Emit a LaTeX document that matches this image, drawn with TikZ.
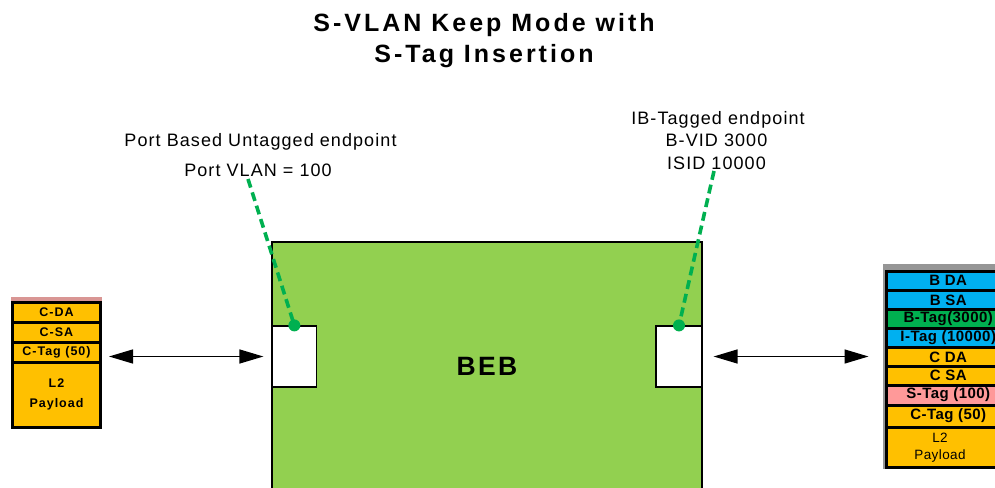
\documentclass[tikz,border=0pt]{standalone}
\usepackage{fontspec}
\setmainfont{Liberation Sans}
\usetikzlibrary{arrows.meta}
\definecolor{bebgreen}{HTML}{92D050}
\definecolor{dashgreen}{HTML}{00B050}
\definecolor{fblue}{HTML}{00B0F0}
\definecolor{fgreen}{HTML}{00B050}
\definecolor{forange}{HTML}{FFC000}
\definecolor{fpink}{HTML}{FF9999}
\definecolor{pinkbar}{HTML}{D99694}
\definecolor{shadowgray}{HTML}{969696}
\begin{document}
\begin{tikzpicture}[x=1pt,y=-1pt,
  titletext/.style={font=\fontsize{25}{31.5}\selectfont\bfseries\addfontfeatures{LetterSpace=12}, inner sep=0pt, anchor=base},
  labeltext/.style={font=\fontsize{18}{22.5}\selectfont\addfontfeatures{LetterSpace=6}, inner sep=0pt, anchor=base},
  bebbox/.style={draw=black, line width=1.2pt, fill=bebgreen, minimum width=430pt, minimum height=278pt, inner sep=0pt},
  bebtext/.style={font=\fontsize{26.5}{30}\selectfont\bfseries\addfontfeatures{LetterSpace=9}, inner sep=0pt},
  portbox/.style={draw=black, line width=1.2pt, fill=white, minimum height=61pt, inner sep=0pt},
  lrow/.style={draw=black, line width=3pt, fill=forange, minimum width=88pt, inner sep=0pt, font=\fontsize{12.5}{20}\selectfont\bfseries\addfontfeatures{LetterSpace=8}, align=center},
  rrow/.style={draw=black, line width=3pt, minimum width=123.5pt, inner sep=0pt, font=\fontsize{15}{17}\selectfont\bfseries\addfontfeatures{LetterSpace=3}, align=center},
  rpay/.style={font=\fontsize{13.5}{17}\selectfont\addfontfeatures{LetterSpace=3}, inner sep=0pt, align=center},
  biarrow/.style={{Triangle[length=24pt,width=14pt]}-{Triangle[length=24pt,width=14pt]}, line width=1.4pt},
  leader/.style={draw=dashgreen, line width=3.6pt, dash pattern=on 9pt off 5pt},
  enddot/.style={fill=dashgreen}
]
\path[use as bounding box] (0,0) rectangle (995,487);
\clip (0,0) rectangle (995,487);

% title
\node[titletext] (t1) at (484,31.7) {S-VLAN Keep Mode with};
\node[titletext] (t2) at (484,63) {S-Tag Insertion};

% labels
\node[labeltext] (pbu) at (260.5,146.7) {Port Based Untagged endpoint};
\node[labeltext] (vlan) at (258,176) {Port VLAN = 100};
\node[labeltext] (ibt) at (718,124) {IB-Tagged endpoint};
\node[labeltext] (bvid) at (716.5,146.7) {B-VID 3000};
\node[labeltext] (isid) at (716.5,169) {ISID 10000};
\coordinate (lstart) at (248,179);
\coordinate (rstart) at (714,171);

% BEB
\node[bebbox] (beb) at (487,381) {};
\node[bebtext] (bebt) at (487,366) {BEB};
\node[portbox, minimum width=44.7pt] (lport) at (294.35,356.5) {};
\node[portbox, minimum width=46pt] (rport) at (679,356.5) {};

% leaders
\draw[leader] (lstart) -- (lport.north);
\fill[enddot] (lport.north) circle (6pt);
\draw[leader] (rstart) -- (rport.north);
\fill[enddot] (rport.north) circle (6pt);

% left frame
\fill[pinkbar] (11,296.7) rectangle (102,302);
\node[lrow, minimum height=20pt] (lcda) at (56.5,312) {C-DA};
\node[lrow, minimum height=20pt] (lcsa) at (56.5,332) {C-SA};
\node[lrow, minimum height=20pt] (lctag) at (56.5,352) {C-Tag (50)};
\node[lrow, minimum height=65pt] (lpay) at (56.5,394.5) {L2\\Payload};

% right frame
\fill[shadowgray] (882.5,264) rectangle (1010,469);
\node[rrow, fill=fblue, minimum height=19.6pt] (rbda) at (948.25,280.8) {B DA};
\node[rrow, fill=fblue, minimum height=18.6pt] (rbsa) at (948.25,300) {B SA};
\node[rrow, fill=fgreen, minimum height=19pt] (rbtag) at (948.25,319) {B-Tag(3000)};
\node[rrow, fill=fblue, minimum height=19pt] (ritag) at (948.25,338) {I-Tag (10000)};
\node[rrow, fill=forange, minimum height=19pt] (rcda) at (948.25,357) {C DA};
\node[rrow, fill=forange, minimum height=18.7pt] (rcsa) at (948.25,375.65) {C SA};
\node[rrow, fill=fpink, minimum height=20pt] (rstag) at (948.25,395) {S-Tag (100)};
\node[rrow, fill=forange, minimum height=22pt] (rctag) at (948.25,416) {C-Tag (50)};
\node[rrow, fill=forange, minimum height=40.5pt] (rpay) at (948.25,447.25) {};
\node[rpay] (rpayt) at (940,448) {L2\\Payload};

% connectors
\draw[biarrow, shorten <=7pt, shorten >=8pt] (lport.west -| lctag.east) -- (lport.west);
\draw[biarrow, shorten <=11pt, shorten >=16.5pt] (rport.east) -- (rport.east -| rcda.west);
\end{tikzpicture}
\end{document}
